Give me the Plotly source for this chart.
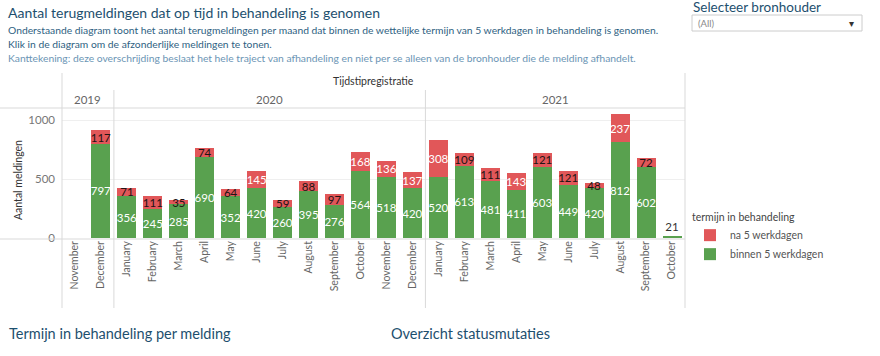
import plotly.graph_objects as go

# ---------------- data ----------------
years = ["2019", "2020", "2021"]
year_counts = [2, 12, 10]
months = ["November", "December",
          "January", "February", "March", "April", "May", "June", "July",
          "August", "September", "October", "November", "December",
          "January", "February", "March", "April", "May", "June", "July",
          "August", "September", "October"]
binnen = [None, 797, 356, 245, 285, 690, 352, 420, 260, 395, 276, 564, 518, 420,
          520, 613, 481, 411, 603, 449, 420, 812, 602, 21]
na = [None, 117, 71, 111, 35, 74, 64, 145, 59, 88, 97, 168, 136, 137,
      308, 109, 111, 143, 121, 121, 48, 237, 72, None]
na_white = [False, False, False, False, False, False, False, True, False, False, False, True, True, True,
            True, False, False, True, False, False, False, True, False, False]

# ---------------- geometry helpers ----------------
W, H = 880, 356
PL, PR, PT, PB = 62, 685, 108, 238


def px(x):
    return (x - PL) / (PR - PL)


def py(y):
    return (PB - y) / (PB - PT)


GREEN = "#59a14f"
RED = "#e15759"
FONT = "Lato"

keys = [f"{i:02d}" for i in range(len(months))]

fig = go.Figure()
fig.add_trace(go.Bar(
    x=keys, y=binnen, name="binnen 5 werkdagen", marker_color=GREEN,
    marker_line_width=0,
    text=[("" if v is None else str(v)) for v in binnen],
    textposition=["outside" if (v is not None and v < 60) else "inside" for v in binnen],
    insidetextanchor="middle", constraintext="none", textangle=0,
    insidetextfont=dict(color="white", size=11.5, family=FONT),
    outsidetextfont=dict(color="#333333", size=11.5, family=FONT),
    cliponaxis=False, hoverinfo="skip",
))
fig.add_trace(go.Bar(
    x=keys, y=na, name="na 5 werkdagen", marker_color=RED,
    marker_line_width=0,
    text=[("" if v is None else str(v)) for v in na],
    textposition="inside", insidetextanchor="middle", constraintext="none", textangle=0,
    textfont=dict(color=["white" if w else "#221414" for w in na_white], size=11.5, family=FONT),
    cliponaxis=False, hoverinfo="skip",
))

n = len(months)
fig.update_layout(
    width=W, height=H, barmode="stack", bargap=0.27,
    margin=dict(l=PL, r=W - PR, t=PT, b=H - PB, autoexpand=False),
    paper_bgcolor="white", plot_bgcolor="white",
    font=dict(family=FONT, color="#555555"),
    xaxis=dict(
        type="category", tickmode="array", tickvals=keys, ticktext=months,
        tickangle=-90, tickfont=dict(size=10.5, color="#666666", family=FONT),
        showgrid=False, showline=False, ticks="", range=[-0.5, n - 0.5],
        automargin=False,
    ),
    yaxis=dict(
        range=[0, 1102], tickvals=[0, 500, 1000], ticktext=["0", "500", "1000"],
        tickfont=dict(size=11.5, color="#777777", family=FONT),
        showgrid=True, gridcolor="#efefef", gridwidth=1, zeroline=False,
        showline=False, ticks="", ticklabelstandoff=6, automargin=False,
    ),
    showlegend=True,
    legend=dict(
        x=px(690), y=py(207), xanchor="left", yanchor="top",
        traceorder="reversed", font=dict(size=10.5, color="#555555", family=FONT),
        title=dict(text="termijn in behandeling", font=dict(size=10.5, color="#444444", family=FONT)),
        itemwidth=30, tracegroupgap=0, bgcolor="rgba(0,0,0,0)",
    ),
)

shapes = []
annos = []
line_col = "#d9d9d9"


def ann(text, x, y, size, color, xanchor="center", yanchor="middle", **kw):
    annos.append(dict(text=text, xref="paper", yref="paper", x=x, y=y, xanchor=xanchor, yanchor=yanchor,
                      showarrow=False, font=dict(size=size, color=color, family=FONT), **kw))


# table frame lines
shapes.append(dict(type="line", xref="paper", yref="paper", x0=px(0), x1=px(PR), y0=py(108), y1=py(108),
                   line=dict(color=line_col, width=1)))
shapes.append(dict(type="line", xref="paper", yref="paper", x0=px(0), x1=px(PR), y0=py(239), y1=py(239),
                   line=dict(color=line_col, width=1)))
for xp in (PL, PR):
    shapes.append(dict(type="line", xref="paper", yref="paper", x0=px(xp), x1=px(xp), y0=py(73), y1=py(308),
                       line=dict(color=line_col, width=1)))

# year dividers and labels
start = 0
for yi, (yr, cnt) in enumerate(zip(years, year_counts)):
    x0 = start / n
    x1 = (start + cnt) / n
    ann(yr, (x0 + x1) / 2, py(99), 11.5, "#666666")
    if yi < len(years) - 1:
        shapes.append(dict(type="line", xref="paper", yref="paper", x0=x1, x1=x1, y0=py(90), y1=py(308),
                           line=dict(color=line_col, width=1)))
    start += cnt

ann("Tijdstipregistratie", 0.5, py(81), 10.5, "#333333")
ann("Aantal meldingen", px(18), py(180), 10.5, "#333333", textangle=-90)

# header texts
ann("Aantal terugmeldingen dat op tijd in behandeling is genomen", px(6), py(12), 14, "#1d4f6e",
    xanchor="left")
sub = [
    ("Onderstaande diagram toont het aantal terugmeldingen per maand dat binnen de wettelijke termijn van 5 werkdagen in behandeling is genomen.", 30, "#2f5f82"),
    ("Klik in de diagram om de afzonderlijke meldingen te tonen.", 44, "#2f5f82"),
    ("Kanttekening: deze overschrijding beslaat het hele traject van afhandeling en niet per se alleen van de bronhouder die de melding afhandelt.", 58, "#6b95b5"),
]
for t, yy, c in sub:
    ann(t, px(6), py(yy), 10.3, c, xanchor="left")

# filter widget
ann("Selecteer bronhouder", px(691), py(7), 13.5, "#1d4f6e", xanchor="left")
shapes.append(dict(type="rect", xref="paper", yref="paper", x0=px(692), x1=px(862), y0=py(15), y1=py(31),
                   line=dict(color="#cccccc", width=1), fillcolor="white"))
ann("(All)", px(696), py(23), 9.5, "#888888", xanchor="left")
ann("▾", px(852), py(23), 10, "#333333")

# bottom section titles
ann("Termijn in behandeling per melding", px(7), py(333), 14.5, "#1d4f6e", xanchor="left")
ann("Overzicht statusmutaties", px(389), py(333), 14.5, "#1d4f6e", xanchor="left")

fig.update_layout(shapes=shapes, annotations=annos)
fig.write_html("out.html", config={"displayModeBar": False},
               post_script="document.body.style.margin='0';document.body.style.overflow='hidden';")
